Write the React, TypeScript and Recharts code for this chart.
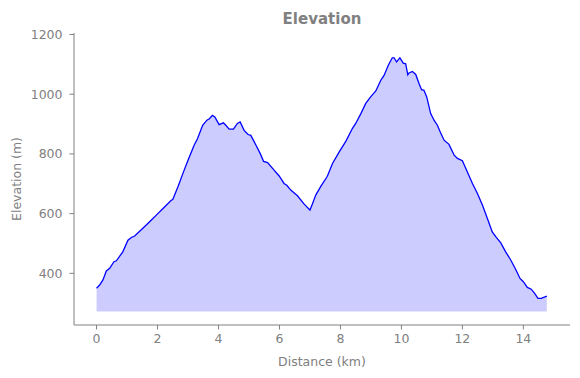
import { ComposedChart, Area, Line, XAxis, YAxis } from "recharts";

const distanceKm = [
  0, 0.1, 0.21, 0.32, 0.43, 0.57, 0.65, 0.86, 1.03, 1.14, 1.25, 1.57, 1.79, 1.96, 2.18, 2.45, 2.5, 2.67, 2.83, 3.0,
  3.2, 3.31, 3.48, 3.62, 3.7, 3.8, 3.88, 4.02, 4.16, 4.24, 4.35, 4.49, 4.62, 4.71, 4.84, 4.97, 5.06, 5.23, 5.37, 5.48,
  5.61, 5.83, 5.99, 6.15, 6.24, 6.37, 6.59, 6.81, 7.0, 7.08, 7.19, 7.36, 7.57, 7.74, 7.96, 8.18, 8.39, 8.5, 8.67, 8.83,
  8.99, 9.16, 9.32, 9.43, 9.57, 9.7, 9.76, 9.84, 9.95, 10.06, 10.14, 10.21, 10.25, 10.36, 10.47, 10.58, 10.66, 10.74,
  10.83, 10.96, 11.07, 11.18, 11.27, 11.4, 11.56, 11.73, 11.84, 12.0, 12.16, 12.33, 12.49, 12.66, 12.82, 12.98, 13.1,
  13.26, 13.42, 13.59, 13.75, 13.89, 14.0, 14.13, 14.26, 14.37, 14.48, 14.59, 14.77,
];

const elevationM = [
  350, 361, 378, 408, 417, 439, 442, 472, 511, 520, 525, 556, 578, 595, 617, 645, 647, 690, 734, 779,
  829, 851, 896, 913, 918, 929, 924, 898, 904, 896, 883, 883, 902, 907, 879, 865, 862, 829, 801, 775,
  771, 745, 726, 701, 695, 679, 660, 632, 612, 632, 662, 692, 725, 768, 807, 843, 885, 902, 935, 969,
  991, 1011, 1046, 1063, 1097, 1122, 1122, 1108, 1122, 1104, 1102, 1065, 1071, 1076, 1066, 1035, 1015, 1013,
  991, 935, 913, 896, 874, 846, 832, 796, 785, 777, 740, 701, 668, 628, 584, 539, 522,
  502, 472, 444, 413, 383, 372, 353, 347, 333, 316, 316, 324,
];

const fillBase = 272;
const xTicks = [0, 2, 4, 6, 8, 10, 12, 14];
const yTicks = [400, 600, 800, 1000, 1200];

const data = distanceKm.map((d, i) => ({ d, elev: elevationM[i] }));

const gray = "#808080";
const font = "DejaVu Sans, sans-serif";

export default function App() {
  return (
    <div style={{ position: "fixed", left: 0, top: 0, width: 580, height: 378, background: "#fff", fontFamily: font }}>
      <div
        style={{
          position: "absolute",
          left: 74,
          width: 496,
          top: 10,
          textAlign: "center",
          fontWeight: "bold",
          fontSize: 15,
          color: gray,
        }}
      >
        Elevation
      </div>
      <div
        style={{
          position: "absolute",
          left: 74,
          width: 496,
          top: 354,
          textAlign: "center",
          fontSize: 12.5,
          color: gray,
        }}
      >
        Distance (km)
      </div>
      <div
        style={{
          position: "absolute",
          left: 16,
          top: 179,
          transform: "translate(-50%, -50%) rotate(-90deg)",
          whiteSpace: "nowrap",
          fontSize: 12.5,
          color: gray,
        }}
      >
        Elevation (m)
      </div>
      <ComposedChart width={580} height={378} data={data} margin={{ top: 33, right: 10, bottom: 23, left: 14 }}>
        <XAxis
          dataKey="d"
          type="number"
          domain={[-0.74, 15.53]}
          ticks={xTicks}
          allowDataOverflow
          height={30}
          stroke={gray}
          tickSize={4.5}
          tickMargin={5}
          tick={{ fill: gray, fontSize: 12.5, fontFamily: font }}
        />
        <YAxis
          type="number"
          domain={[227, 1205]}
          ticks={yTicks}
          allowDataOverflow
          width={60}
          stroke={gray}
          tickSize={4.5}
          tickMargin={7}
          tick={{ fill: gray, fontSize: 12.5, fontFamily: font }}
        />
        <Area
          dataKey="elev"
          type="linear"
          baseValue={fillBase}
          fill="#0000ff"
          fillOpacity={0.2}
          stroke="none"
          isAnimationActive={false}
        />
        <Line dataKey="elev" type="linear" stroke="#0000ff" strokeWidth={1.3} dot={false} isAnimationActive={false} />
      </ComposedChart>
    </div>
  );
}
